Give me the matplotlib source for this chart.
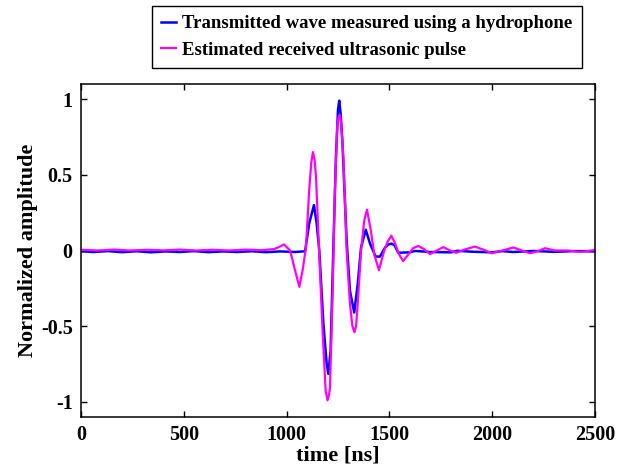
import matplotlib
matplotlib.use('Agg')
import matplotlib.pyplot as plt

# hydrophone measurement (blue)
t_hyd = [0, 60, 130, 200, 270, 340, 410, 480, 550, 620, 690, 760, 830, 900, 970, 1040,
         1090, 1110, 1133, 1146, 1159, 1179, 1195, 1203, 1214, 1227, 1240, 1250, 1256,
         1263, 1271, 1292, 1308, 1329, 1346, 1362, 1385, 1406, 1433, 1454, 1479, 1495,
         1511, 1525, 1543, 1600, 1625, 1700, 1800, 1830, 1900, 2000, 2050, 2100, 2200,
         2300, 2400, 2500]
a_hyd = [-0.005, -0.01, -0.004, -0.011, -0.005, -0.012, -0.006, -0.01, -0.004, -0.011,
         -0.006, -0.01, -0.005, -0.011, -0.006, -0.01,
         -0.005, 0.18, 0.30, 0.18, 0.0, -0.485, -0.75, -0.815, -0.66, 0.0, 0.62, 0.93, 0.99,
         0.9, 0.73, 0.066, -0.265, -0.41, -0.22, 0.02, 0.137, 0.044, -0.04, -0.04, 0.02, 0.04,
         0.045, 0.035, -0.015, -0.012, -0.003, -0.01, -0.012, -0.002, -0.008, -0.012, -0.004,
         -0.01, -0.003, -0.009, -0.004, -0.006]

# estimated received pulse (magenta)
t_est = [0, 80, 160, 240, 320, 400, 480, 560, 640, 720, 800, 880, 940, 968, 987, 1017,
         1041, 1062, 1078, 1094, 1110, 1120, 1128, 1136, 1143, 1158, 1175, 1190, 1199,
         1207, 1211, 1224, 1235, 1247, 1254, 1260, 1266, 1276, 1292, 1308, 1320, 1330,
         1338, 1346, 1362, 1378, 1391, 1410, 1427, 1449, 1475, 1492, 1509, 1527, 1545,
         1566, 1590, 1615, 1640, 1668, 1697, 1730, 1762, 1795, 1825, 1870, 1916, 1958,
         1998, 2050, 2103, 2145, 2184, 2220, 2257, 2306, 2370, 2427, 2470, 2500]
a_est = [0.005, 0.0, 0.006, 0.0, 0.005, 0.001, 0.006, 0.0, 0.005, 0.0, 0.006, 0.002, 0.01,
         0.026, 0.04, 0.0, -0.13, -0.24, -0.13, 0.02, 0.40, 0.58, 0.65, 0.60, 0.49, 0.0,
         -0.53, -0.93, -0.99, -0.95, -0.905, -0.265, 0.40, 0.84, 0.89, 0.895, 0.82, 0.62,
         0.0, -0.35, -0.5, -0.54, -0.5, -0.35, 0.0, 0.2, 0.27, 0.13, -0.03, -0.13, 0.0,
         0.06, 0.098, 0.05, -0.02, -0.07, -0.03, 0.015, 0.03, 0.01, -0.024, 0.0, 0.022,
         0.0, -0.015, 0.008, 0.026, 0.005, -0.018, 0.0, 0.02, 0.0, -0.018, -0.005, 0.015,
         0.0, 0.0, -0.01, -0.002, 0.003]

x_ticks = [0, 500, 1000, 1500, 2000, 2500]
y_ticks = [-1, -0.5, 0, 0.5, 1]
y_labels = ['-1', '-0.5', '0', '0.5', '1']

plt.rcParams['font.family'] = 'Liberation Serif'
plt.rcParams['font.weight'] = 'bold'

fig = plt.figure(figsize=(6.26, 4.70), dpi=100)
ax = fig.add_axes([81 / 626, 1 - 417 / 470, 514 / 626, 333 / 470])

ax.plot(t_hyd, a_hyd, color='#0000ff', lw=1.8, label='Transmitted wave measured using a hydrophone')
ax.plot(t_est, a_est, color='#ff00ff', lw=1.6, label='Estimated received ultrasonic pulse')

ax.set_xlim(0, 2500)
ax.set_ylim(-1.1, 1.1)
ax.set_xticks(x_ticks)
ax.set_yticks(y_ticks)
ax.set_yticklabels(y_labels)
ax.tick_params(direction='in', top=True, right=True, length=4, width=1, labelsize=14.5, pad=6)
for s in ax.spines.values():
    s.set_linewidth(1.1)

ax.set_xlabel('time [ns]', fontsize=16, fontweight='bold', labelpad=0)
ax.set_ylabel('Normalized amplitude', fontsize=16, fontweight='bold', labelpad=2)

leg = fig.legend(loc='upper left', bbox_to_anchor=(152 / 626, 1 - 6 / 470), borderaxespad=0,
                 fancybox=False, edgecolor='black', framealpha=1, fontsize=13.5,
                 handlelength=0.8, handletextpad=0.3, borderpad=0.5, labelspacing=0.5,
                 handleheight=0.7)
leg.get_frame().set_linewidth(1.0)

fig.savefig('out.png', dpi=100)
